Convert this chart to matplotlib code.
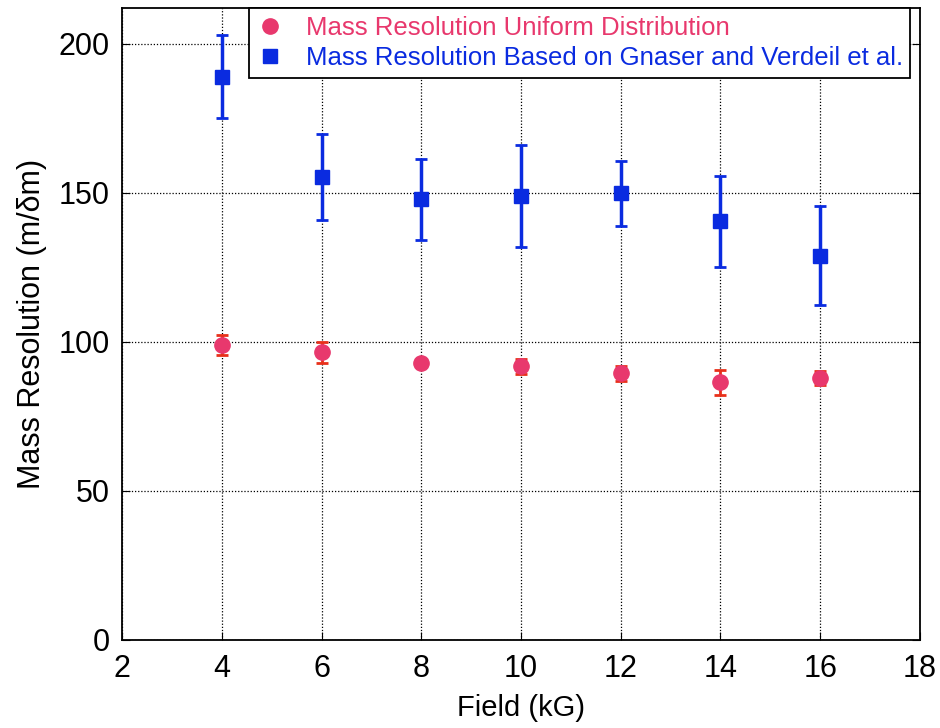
import numpy as np
import matplotlib
matplotlib.use("Agg")
import matplotlib.pyplot as plt

plt.rcParams['font.family'] = ['Liberation Sans', 'DejaVu Sans']

# === Data ===
field = [4, 6, 8, 10, 12, 14, 16]

uniform_res = [99, 96.5, 92.8, 91.8, 89.4, 86.4, 87.8]
uniform_err = [3.3, 3.5, 1.0, 2.5, 2.6, 4.1, 2.3]

gnaser_res = [189, 155.3, 147.8, 149, 149.8, 140.5, 128.9]
gnaser_err = [13.8, 14.5, 13.7, 17.2, 11.0, 15.3, 16.6]

pink = '#E8386D'
pink_err = '#E8301A'
blue = '#0A2BE0'

# === Plot ===
fig = plt.figure(figsize=(9.4, 7.28), dpi=100)
ax = fig.add_axes([0.1298, 0.1209, 0.8489, 0.8681])

e1 = ax.errorbar(field, uniform_res, yerr=uniform_err, fmt='o', color=pink,
                 ecolor=pink_err, elinewidth=2, capsize=4, capthick=2,
                 markersize=11, zorder=3)
e2 = ax.errorbar(field, gnaser_res, yerr=gnaser_err, fmt='s', color=blue,
                 ecolor=blue, elinewidth=2.5, capsize=4, capthick=2,
                 markersize=10, zorder=3)

ax.set_xlim(2, 18)
ax.set_ylim(0, 212)
ax.set_xticks(np.arange(2, 19, 2))
ax.set_yticks(np.arange(0, 201, 50))
ax.tick_params(direction='in', labelsize=22, length=6, right=True, top=False)
ax.tick_params(axis='y', pad=9)
ax.tick_params(axis='x', pad=10)
ax.grid(True, color='black', linestyle=(0, (1, 1.5)), linewidth=0.9)

for s in ax.spines.values():
    s.set_linewidth(1.3)

ax.set_xlabel('Field (kG)', fontsize=21, labelpad=7)
ax.set_ylabel('Mass Resolution (m/\u03b4m)', fontsize=22, labelpad=8)

# legend shows markers only, no error bars
leg = ax.legend([e1[0], e2[0]],
                ['Mass Resolution Uniform Distribution',
                 'Mass Resolution Based on Gnaser and Verdeil et al.'],
                loc='upper right', fontsize=18.5, frameon=True, fancybox=False,
                edgecolor='black', framealpha=1, handlelength=1.0,
                handletextpad=0.9, borderpad=0.3, labelspacing=0.25,
                borderaxespad=0.0, bbox_to_anchor=(0.988, 1.0))
leg.get_frame().set_linewidth(1.3)
for txt, c in zip(leg.get_texts(), [pink, blue]):
    txt.set_color(c)

fig.savefig('out.png', dpi=100)
